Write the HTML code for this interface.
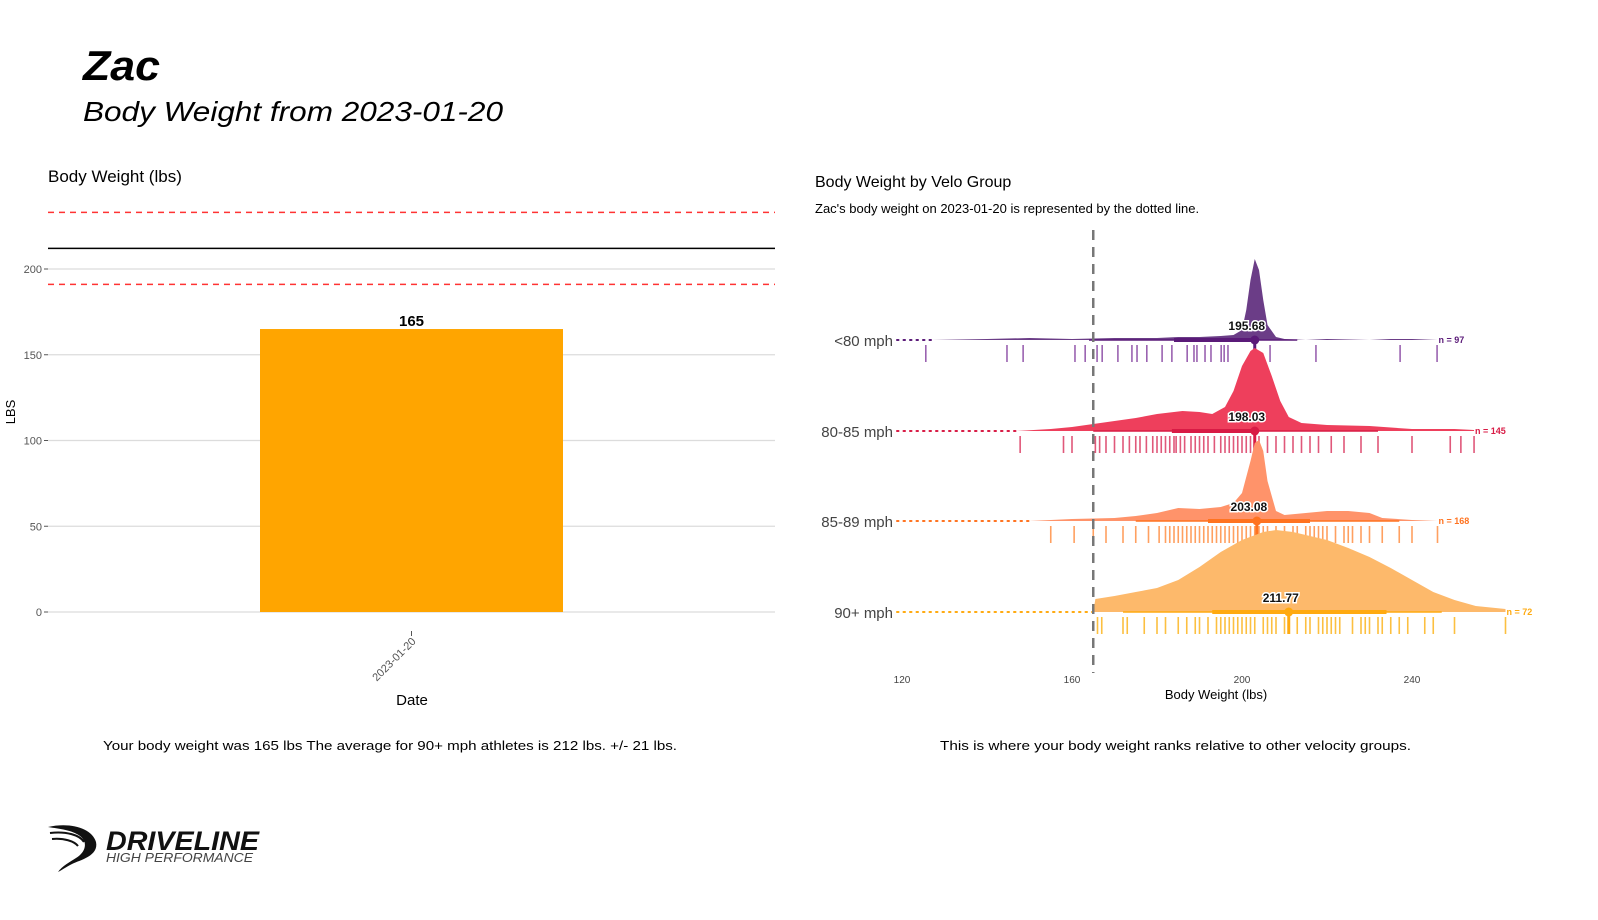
<!DOCTYPE html>
<html><head><meta charset="utf-8"><style>
body{margin:0;background:#fff;font-family:"Liberation Sans",sans-serif}
svg{display:block}
</style></head><body>
<svg id="page" width="1598" height="920" viewBox="0 0 1598 920" font-family="Liberation Sans, sans-serif">
<text x="83" y="80" font-size="42" font-weight="bold" font-style="italic" textLength="77" lengthAdjust="spacingAndGlyphs">Zac</text>
<text x="83" y="121" font-size="28" font-style="italic" textLength="420" lengthAdjust="spacingAndGlyphs">Body Weight from 2023-01-20</text>

<g id="left"></g>
<g id="right"></g>

<text x="103" y="750" font-size="13" textLength="574" lengthAdjust="spacingAndGlyphs">Your body weight was 165 lbs The average for 90+ mph athletes is 212 lbs. +/- 21 lbs.</text>
<text x="940" y="750" font-size="13" textLength="471" lengthAdjust="spacingAndGlyphs">This is where your body weight ranks relative to other velocity groups.</text>

<g>
<path d="M48 827 C70 822 92 828 96 842 C99 856 80 860 72 864 C66 867 62 870 58 872 C62 866 70 862 76 858 C86 852 88 842 80 836 C72 830 60 829 48 827 Z" fill="#111"/>
<path d="M50 833 C66 831 80 835 84 842" stroke="#111" stroke-width="2" fill="none"/>
<path d="M52 839 C64 838 74 841 78 846" stroke="#111" stroke-width="2" fill="none"/>
<text x="106" y="850" font-size="27" font-weight="bold" font-style="italic" fill="#111" textLength="153" lengthAdjust="spacingAndGlyphs">DRIVELINE</text>
<text x="106" y="862" font-size="13" font-style="italic" fill="#444" textLength="147" lengthAdjust="spacingAndGlyphs">HIGH PERFORMANCE</text>
</g>
</svg>
<script>
const NS="http://www.w3.org/2000/svg";
function mk(parent,tag,attrs,text){const e=document.createElementNS(NS,tag);for(const k in attrs)e.setAttribute(k,attrs[k]);if(text!==undefined)e.textContent=text;parent.appendChild(e);return e;}

// ---------- Left chart data ----------
const barCategories=["2023-01-20"];
const barValues=[165];
const yTicks=[0,50,100,150,200];
const groupMean=[212];
const groupSd=[21];

// ---------- Right chart data ----------
const veloGroups=["<80 mph","80-85 mph","85-89 mph","90+ mph"];
const groupN=[97,145,168,72];
const groupMeans=["195.68","198.03","203.08","211.77"];
const groupMedian=[203,203,203.5,211];
const thinLo=[164,165,175,172], thinHi=[213,232,237,247];
const thickLo=[184,183.5,192,193], thickHi=[203,203,216,234];
const athleteWeight=[165];
const xTicks=[120,160,200,240];
const dens0X=[127,140,150,160,170,180,185,190,195,198,200,201,202,203,204,205,206,208,210,215,220,230,235,240,246];
const dens0Y=[0,1,2,1,2,2,3,3,4,5,10,30,60,81,70,40,15,3,1,0,1,0,1,1,0];
const dens1X=[147,155,160,165,170,175,180,186,190,193,196,198,200,202,203,205,207,209,211,214,220,230,240,250,254.6];
const dens1Y=[0,2,4,7,10,13,17,20,19,17,24,40,65,80,83,78,55,30,14,8,6,5,2,2,1];
const dens2X=[150,160,170,175,180,185,190,195,198,200,202,203,204,205,206,208,210,215,220,225,230,233,240,246];
const dens2Y=[0,2,3,5,8,13,12,14,18,28,60,78,81,70,40,10,6,8,10,10,8,3,1,0];
const dens3X=[165,165.5,170,175,180,185,190,195,200,205,208,212,220,225,230,235,240,245,250,255,262];
const dens3Y=[0,13,16,20,24,32,45,60,72,80,82,80,72,64,55,44,32,20,12,6,3];
const rug0=[125.6,144.7,148.5,160.7,163.1,165.9,167.1,170.8,174.1,175.3,177.6,181.2,183.5,187.1,188.7,189.4,191.3,192.7,195.1,195.8,196.7,203,206.6,217.4,237.2,245.9];
const rug1=[147.8,158,160,165.5,166.5,168,170,172,173.5,175,176,177.5,179,180,181,182,183,184,184.5,185.5,186.5,188,189,190,191,192,193.5,195,196,197,198,199,200,201,202,203,204,206,208,210,212,214,216,218,221,224,228,232,240,249,251.5,254.6];
const rug2=[155,160.5,165,168,172,175,178,180.5,182,183,184,185,186,187,188,189,190,191,192,193,194,195,196,197,198,199,200,201,202,203,204,205,206,208,210,212,213,215,216,217,218,219,220,222,224,225,226,228,230,233,237,240,246];
const rug3=[166,167,172,173,177,180,182,185,187,189,190,192,194,195,196,197,198,199,200,201,202,203,205,206,207,208,210,211,213,215,216,218,219,220,221,222,223,226,228,229,230,232,233,235,237,239,243,245,250,262];

const densX=[dens0X,dens1X,dens2X,dens3X], densY=[dens0Y,dens1Y,dens2Y,dens3Y], rugs=[rug0,rug1,rug2,rug3];
const fills=["#6b3d87","#ee3f5c","#ff936a","#fdb96b"];
const strokes=["#5a1a78","#d81b45","#ff7320","#ffaa10"];
const rugCols=["#9a62b0","#e0587a","#ffa060","#fcc040"];

// ---------- Left chart ----------
const L=document.getElementById('left');
const lx0=48,lx1=775;
const ly=v=>612-v*1.715;
mk(L,'text',{x:48,y:182,'font-size':17,},'Body Weight (lbs)');
yTicks.forEach(t=>{
  const g=mk(L,'line',{x1:lx0,x2:lx1,y1:ly(t),y2:ly(t),stroke:'#dcdcdc','stroke-width':1.2});
  
  
  mk(L,'line',{x1:44,x2:48,y1:ly(t),y2:ly(t),stroke:'#555'});
  const tl=mk(L,'text',{x:42,y:ly(t)+4,'font-size':11,fill:'#555','text-anchor':'end'},String(t));
  
  
});
const bw=303;
barCategories.forEach((c,i)=>{
  const cx=(lx0+lx1)/2;
  const r=mk(L,'rect',{x:cx-bw/2,y:ly(barValues[i]),width:bw,height:ly(0)-ly(barValues[i]),fill:'#ffa500'});
  
  
  const v=mk(L,'text',{x:cx,y:ly(barValues[i])-3,'font-size':15,'font-weight':'bold','text-anchor':'middle'},String(barValues[i]));
  
  
  mk(L,'line',{x1:cx,x2:cx,y1:631,y2:636,stroke:'#555'});
  const xl=mk(L,'text',{x:cx+5,y:642,'font-size':11,fill:'#555','text-anchor':'end',transform:`rotate(-45 ${cx+5} 642)`},c);
  
  
});
const ml=mk(L,'line',{x1:lx0,x2:lx1,y1:ly(groupMean[0]),y2:ly(groupMean[0]),stroke:'#000','stroke-width':1.5});


[groupMean[0]+groupSd[0],groupMean[0]-groupSd[0]].forEach(v=>{
  const d=mk(L,'line',{x1:lx0,x2:lx1,y1:ly(v),y2:ly(v),stroke:'#ff3333','stroke-width':1.5,'stroke-dasharray':'6 5'});
  
  
});
mk(L,'text',{x:412,y:705,'font-size':15,'text-anchor':'middle',},'Date');
mk(L,'text',{x:15,y:412,'font-size':13,'text-anchor':'middle',transform:'rotate(-90 15 412)',},'LBS');

// ---------- Right chart ----------
const R=document.getElementById('right');
const rx=w=>902+(w-120)*4.25;
const base=[340,431,521,612];
mk(R,'text',{x:815,y:187,'font-size':16,},'Body Weight by Velo Group');
mk(R,'text',{x:815,y:213,'font-size':13,},"Zac's body weight on 2023-01-20 is represented by the dotted line.");
xTicks.forEach(t=>{
  const tl=mk(R,'text',{x:rx(t),y:683,'font-size':10,fill:'#444','text-anchor':'middle'},String(t));
  
  
});
mk(R,'text',{x:1216,y:699,'font-size':13,'text-anchor':'middle',},'Body Weight (lbs)');

veloGroups.forEach((g,i)=>{
  const b=base[i];
  const gl=mk(R,'text',{x:893,y:b+6,'font-size':15,fill:'#444','text-anchor':'end'},g);
  
  
  const dl=mk(R,'line',{x1:897,x2:rx(densX[i][0]),y1:b,y2:b,stroke:strokes[i],'stroke-width':2,'stroke-dasharray':'1.5 5','stroke-linecap':'round'});
  
  
  let d=`M${rx(densX[i][0])},${b}`;
  densX[i].forEach((w,k)=>{d+=` L${rx(w)},${b-densY[i][k]}`;});
  d+=` L${rx(densX[i][densX[i].length-1])},${b} Z`;
  const p=mk(R,'path',{d:d,fill:fills[i],'stroke-linejoin':'round'});
  
  
  rugs[i].forEach(w=>{
    const r=mk(R,'line',{x1:rx(w),x2:rx(w),y1:b+5,y2:b+22,stroke:rugCols[i],'stroke-width':1.6});
    
    
  });
  const t1=mk(R,'line',{x1:rx(thinLo[i]),x2:rx(thinHi[i]),y1:b,y2:b,stroke:strokes[i],'stroke-width':1.5});
  
  
  const t2=mk(R,'line',{x1:rx(thickLo[i]),x2:rx(thickHi[i]),y1:b,y2:b,stroke:strokes[i],'stroke-width':4});
  
  
  mk(R,'line',{x1:rx(groupMedian[i]),x2:rx(groupMedian[i]),y1:b,y2:b+22,stroke:strokes[i],'stroke-width':3});
  const c=mk(R,'circle',{cx:rx(groupMedian[i]),cy:b,r:4.5,fill:strokes[i]});
  
  
  const ml2=mk(R,'text',{x:rx(groupMedian[i])-8,y:b-10,'font-size':12,'font-weight':'bold','text-anchor':'middle',fill:'#111',stroke:'#fff','stroke-width':3,'paint-order':'stroke'},groupMeans[i]);
  
  
  const nl=mk(R,'text',{x:rx(densX[i][densX[i].length-1])+1,y:b+3,'font-size':9,'font-weight':'bold',fill:strokes[i]},'n = '+groupN[i]);
  
  
});
const vl=mk(R,'line',{x1:rx(athleteWeight[0]),x2:rx(athleteWeight[0]),y1:230,y2:673,stroke:'#777','stroke-width':2.5,'stroke-dasharray':'10 7'});


</script>
</body></html>
